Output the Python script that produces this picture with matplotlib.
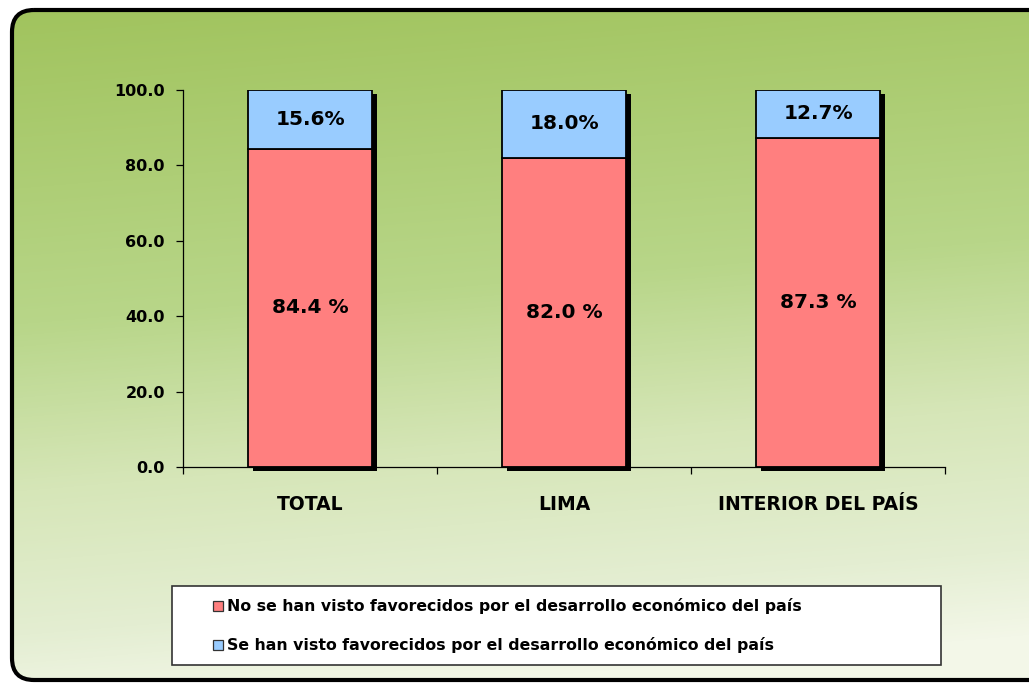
import numpy as np
import matplotlib
matplotlib.use("Agg")
import matplotlib.pyplot as plt
from matplotlib.patches import FancyBboxPatch, Rectangle
from matplotlib.colors import LinearSegmentedColormap

# datos
categorias = ["TOTAL", "LIMA", "INTERIOR DEL PAÍS"]
no_favorecidos = [84.4, 82.0, 87.3]
si_favorecidos = [15.6, 18.0, 12.7]
etiquetas_no = ["84.4 %", "82.0 %", "87.3 %"]
etiquetas_si = ["15.6%", "18.0%", "12.7%"]
leyenda = ["No se han visto favorecidos por el desarrollo económico del país",
           "Se han visto favorecidos por el desarrollo económico del país"]

c_rojo = "#ff7f7f"
c_azul = "#99ccff"

plt.rcParams["font.family"] = ["DejaVu Sans"]
plt.rcParams["font.weight"] = "bold"

fig = plt.figure(figsize=(10.29, 6.88), dpi=100)

# fondo con degradado
bg = fig.add_axes([0, 0, 1, 1], zorder=-10)
bg.set_xlim(0, 1029)
bg.set_ylim(688, 0)
bg.axis("off")
yy, xx = np.mgrid[0:688, 0:1029]
t = 0.95 * (yy / 688) + 0.12 * (xx / 1029)
t = np.clip(t, 0, 1)
cmap = LinearSegmentedColormap.from_list(
    "g", [(0, "#a0c35c"), (0.45, "#b8d689"), (0.68, "#d6e6b8"), (0.88, "#e4eed2"), (1, "#f3f7e8")])
img = bg.imshow(t, cmap=cmap, vmin=0, vmax=1, extent=(0, 1029, 688, 0), zorder=0, aspect="auto")
clip = FancyBboxPatch((12, 10), 1060, 670, boxstyle="round,pad=0,rounding_size=22",
                      transform=bg.transData, facecolor="none", edgecolor="none")
bg.add_patch(clip)
img.set_clip_path(clip)
bg.add_patch(FancyBboxPatch((12, 10), 1060, 670, boxstyle="round,pad=0,rounding_size=22",
                            facecolor="none", edgecolor="black", linewidth=3, zorder=2))

# leyenda (caja)
bg.add_patch(Rectangle((172, 586), 769, 79, facecolor="white", edgecolor="#333333",
                       linewidth=1.2, zorder=3))
for i, (txt, col) in enumerate(zip(leyenda, [c_rojo, c_azul])):
    y = 606 + i * 39
    bg.add_patch(Rectangle((213, y - 5), 10, 10, facecolor=col, edgecolor="#333333",
                           linewidth=0.9, zorder=4))
    bg.text(227, y, txt, fontsize=11.3, fontweight="bold", va="center", ha="left", zorder=4)

# grafico
ax = fig.add_axes([183 / 1029, 1 - 467 / 688, (945 - 183) / 1029, (467 - 90) / 688])
ax.patch.set_alpha(0)
x = np.arange(len(categorias))
w = 0.49
sx = 5 * 3 / 762  # sombra en datos
sy = 100 * 4 / 377
ax.bar(x + sx, 100, width=w, bottom=-sy, color="black", zorder=1, clip_on=False)
ax.bar(x, no_favorecidos, width=w, color=c_rojo, edgecolor="black", linewidth=1.3, zorder=2)
ax.bar(x, si_favorecidos, width=w, bottom=no_favorecidos, color=c_azul, edgecolor="black",
       linewidth=1.3, zorder=2)

for i in range(len(categorias)):
    ax.text(x[i], no_favorecidos[i] / 2, etiquetas_no[i], ha="center", va="center",
            fontsize=14.5, fontweight="bold", zorder=3)
    ax.text(x[i], no_favorecidos[i] + si_favorecidos[i] / 2, etiquetas_si[i], ha="center",
            va="center", fontsize=14.5, fontweight="bold", zorder=3)

ax.set_xlim(-0.5, 2.5)
ax.set_ylim(0, 100)
ax.set_yticks(np.arange(0, 101, 20))
ax.set_yticklabels([f"{v:.1f}" for v in np.arange(0, 101, 20)], fontsize=11.5, fontweight="bold")
ax.set_xticks([-0.5, 0.5, 1.5, 2.5], minor=True)
ax.set_xticks(x)
ax.set_xticklabels(categorias, fontsize=13.5, fontweight="bold")
ax.tick_params(axis="x", which="major", length=0, pad=20)
ax.tick_params(axis="x", which="minor", length=5, width=0.9, direction="out")
ax.tick_params(axis="y", length=5, width=0.9, pad=8)
for s in ["top", "right"]:
    ax.spines[s].set_visible(False)
ax.spines["left"].set_linewidth(0.9)
ax.spines["bottom"].set_linewidth(0.9)

fig.savefig("out.png", dpi=100)
